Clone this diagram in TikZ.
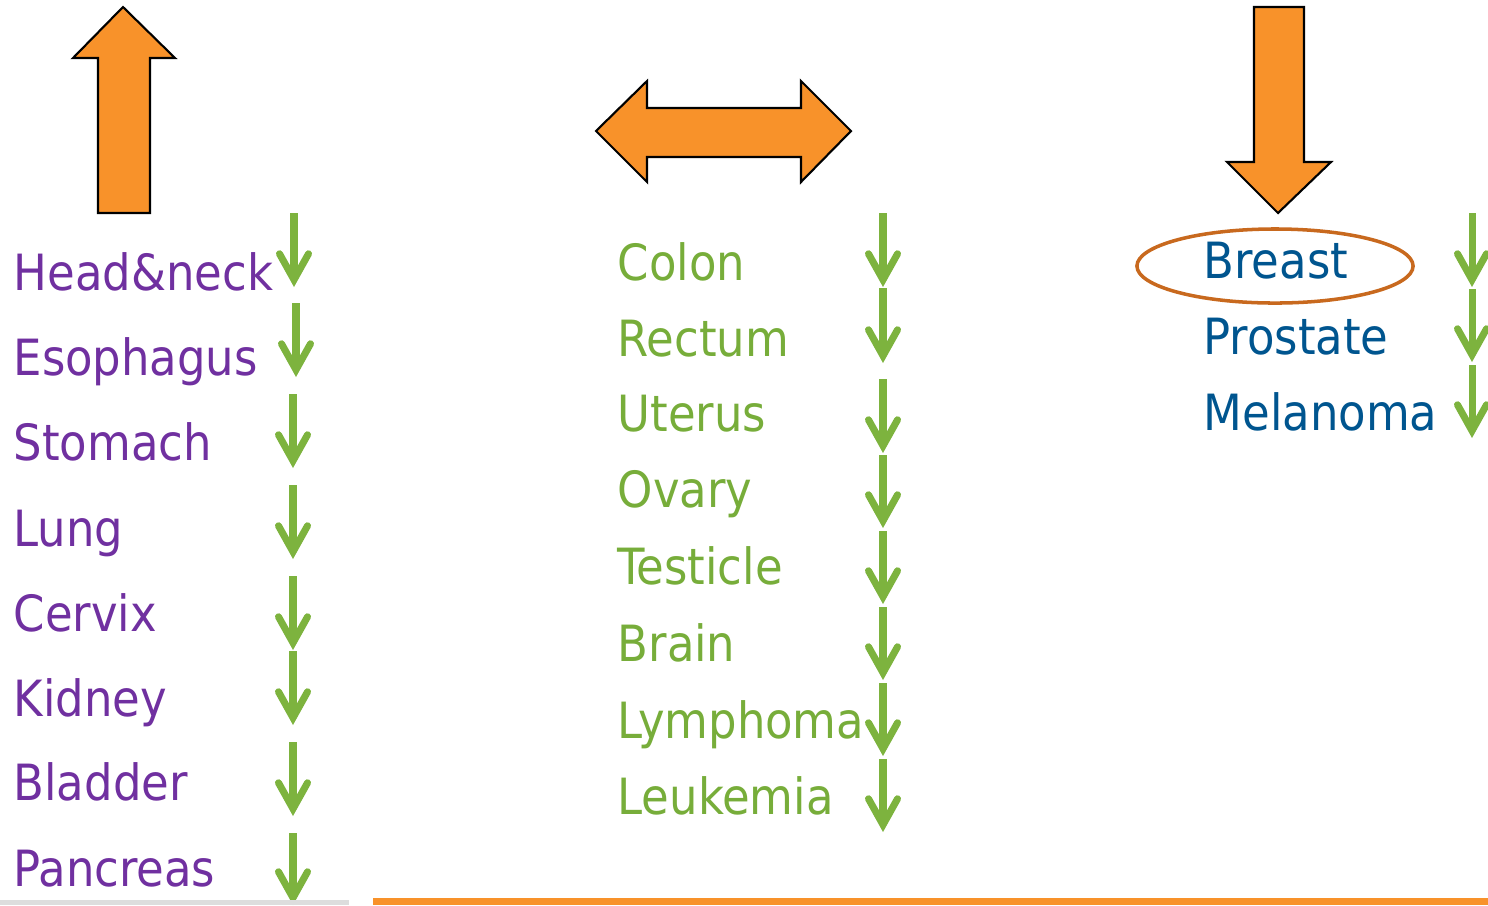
\documentclass[tikz,border=0pt]{standalone}
\usepackage{fontspec}
\setmainfont{DejaVu Sans Condensed}
\usepackage{tikz}
\usetikzlibrary{arrows.meta,shapes.geometric}
\definecolor{blockorange}{HTML}{F8922A}
\definecolor{trendgreen}{HTML}{7DB33E}
\definecolor{upviolet}{HTML}{7030A0}
\definecolor{flatgreen}{HTML}{77AD3A}
\definecolor{downblue}{HTML}{00558F}
\definecolor{ringbrown}{HTML}{C8691E}
\definecolor{rulegray}{HTML}{DDDDDD}

\begin{document}
\begin{tikzpicture}[x=0.01cm,y=-0.01cm,
    font=\fontsize{14.2}{16}\selectfont,
    site/.style={anchor=base west, inner sep=0pt},
    block/.style={fill=blockorange, draw=black, line width=0.6pt, line join=miter},
    trend/.style={draw=trendgreen, line width=2pt,
      -{Straight Barb[length=0.26cm, width=0.29cm, line cap=round, line join=miter]}}]
  \useasboundingbox (0,0) rectangle (1488,905);

  % big block arrows
  \draw[block] (123,7) -- (175,58) -- (150,58) -- (150,213) -- (98,213)
        -- (98,58) -- (73,58) -- cycle;
  \draw[block] (596,131) -- (647,81) -- (647,108) -- (801,108) -- (801,81)
        -- (851,131) -- (801,182) -- (801,157) -- (647,157) -- (647,182) -- cycle;
  \draw[block] (1254,7) -- (1304,7) -- (1304,162) -- (1331,162) -- (1278,213)
        -- (1227,162) -- (1254,162) -- cycle;

  % sites that rise
  \foreach \n/\t/\y in {hn/Head\&neck/290, eso/Esophagus/375, sto/Stomach/460,
      lung/Lung/546, cervix/Cervix/631, kidney/Kidney/716,
      bladder/Bladder/800, pancreas/Pancreas/886}
    \node[site, text=upviolet] (\n) at (13,\y) {\t};

  % sites that stay level
  \foreach \n/\t/\y in {colon/Colon/280, rectum/Rectum/356, uterus/Uterus/431,
      ovary/Ovary/507, testicle/Testicle/584, brain/Brain/661,
      lymphoma/Lymphoma/738, leukemia/Leukemia/814}
    \node[site, text=flatgreen] (\n) at (617,\y) {\t};

  % sites that fall
  \foreach \n/\t/\y in {breast/Breast/278, prostate/Prostate/354,
      melanoma/Melanoma/430}
    \node[site, text=downblue] (\n) at (1203,\y) {\t};

  \node[ellipse, draw=ringbrown, line width=1pt, minimum width=2.76cm,
        minimum height=0.74cm] (ring) at (1275,266) {};

  % small green arrows
  \foreach \x/\a/\b in {294/213/287, 296/303/377, 293/394/468, 293/485/559,
      293/576/650, 293/651/725, 293/742/816, 293/833/905}
    \draw[trend] (\x,\a) -- (\x,\b);
  \foreach \a/\b in {213/287, 288/363, 379/453, 455/528, 531/604, 607/680,
      683/756, 759/832}
    \draw[trend] (883,\a) -- (883,\b);
  \foreach \a/\b in {213/287, 289/362, 365/438}
    \draw[trend] (1472,\a) -- (1472,\b);

  % rules at the foot
  \fill[rulegray] (0,900) rectangle (349,905);
  \fill[blockorange] (373,898) rectangle (1488,905);
\end{tikzpicture}
\end{document}
